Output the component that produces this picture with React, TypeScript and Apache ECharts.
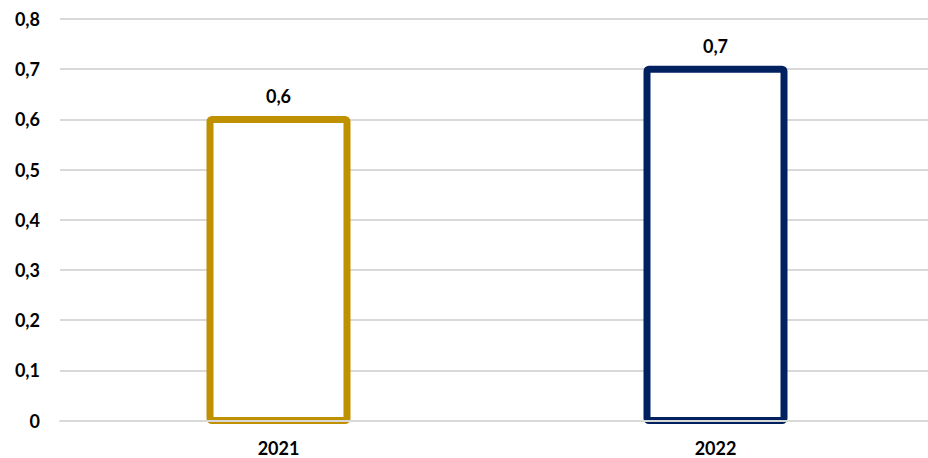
import React, { useEffect, useRef } from "react";
import * as echarts from "echarts";

const categories = ["2021", "2022"];
const values = [0.6, 0.7];
const barColors = ["#BF9000", "#002060"];
const yMin = 0;
const yMax = 0.8;
const yStep = 0.1;

const fmt = (v: number) => (Math.round(v * 10) / 10).toString().replace(".", ",");

export default function App() {
  const ref = useRef<HTMLDivElement>(null);
  useEffect(() => {
    if (!ref.current) return;
    const chart = echarts.init(ref.current, undefined, { renderer: "svg" });
    const font = "Lato";
    const stroke = 7;
    chart.setOption({
      animation: false,
      backgroundColor: "#ffffff",
      grid: {
        left: 60,
        top: 19,
        width: 874,
        bottom: 37.5,
        containLabel: false,
        outerBoundsMode: "none",
      },
      xAxis: {
        type: "category",
        data: categories,
        z: 5,
        axisLine: { show: true, lineStyle: { color: "#D9D9D9", width: 2 } },
        axisTick: { show: false },
        axisLabel: {
          margin: 18,
          fontFamily: font,
          fontWeight: "bold",
          fontSize: 18,
          color: "#000000",
        },
      },
      yAxis: {
        type: "value",
        min: yMin,
        max: yMax,
        interval: yStep,
        axisLine: { show: false },
        axisTick: { show: false },
        splitLine: { show: true, lineStyle: { color: "#D9D9D9", width: 2 } },
        axisLabel: {
          margin: 20,
          fontFamily: font,
          fontWeight: "bold",
          fontSize: 18,
          color: "#000000",
          formatter: (v: number) => fmt(v),
        },
      },
      series: [
        {
          type: "custom",
          data: values.map((v, i) => [i, v]),
          encode: { x: 0, y: 1 },
          renderItem: (params: any, api: any) => {
            const i = api.value(0);
            const v = api.value(1);
            const top = api.coord([i, v]);
            const bottom = api.coord([i, 0]);
            const w = api.size([1, 0])[0] * 0.3135;
            return {
              type: "group",
              children: [
                {
                  type: "rect",
                  shape: { x: top[0] - w / 2, y: top[1], width: w, height: bottom[1] - top[1], r: 2 },
                  style: { fill: "#ffffff", stroke: barColors[params.dataIndex], lineWidth: stroke },
                },
                {
                  type: "text",
                  x: top[0],
                  y: top[1] - stroke / 2 - 11,
                  style: {
                    text: fmt(v),
                    fontFamily: font,
                    fontWeight: "bold",
                    fontSize: 18,
                    fill: "#000000",
                    align: "center",
                    verticalAlign: "bottom",
                  },
                },
              ],
            };
          },
        },
      ],
    });
    return () => chart.dispose();
  }, []);
  return (
    <div
      ref={ref}
      style={{ position: "fixed", left: 0, top: 0, width: 928, height: 458, background: "#fff" }}
    />
  );
}
